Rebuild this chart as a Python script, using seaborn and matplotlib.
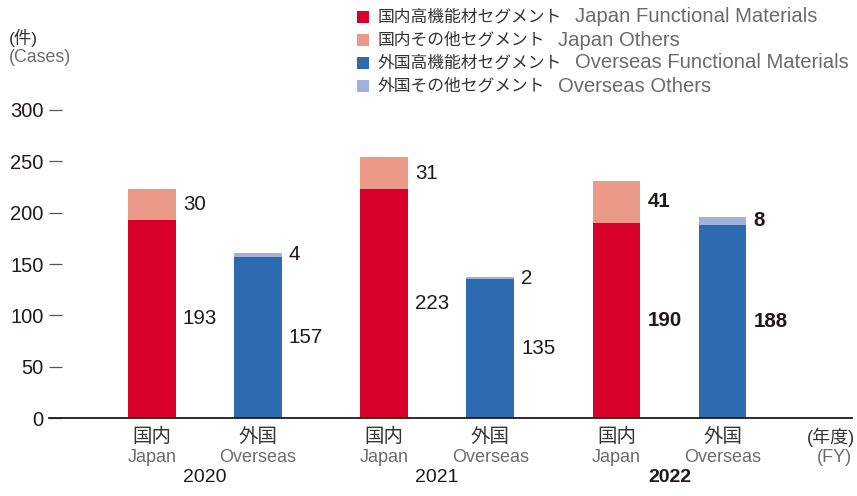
import numpy as np
import pandas as pd
import matplotlib
matplotlib.use('Agg')
import matplotlib.pyplot as plt
from matplotlib.patches import Rectangle
import seaborn as sns

# Data
years = ['2020', '2021', '2022']
japan_func = [193, 223, 190]
japan_other = [30, 31, 41]
overseas_func = [157, 135, 188]
overseas_other = [4, 2, 8]

segments_jp = ['国内高機能材セグメント', '国内その他セグメント',
               '外国高機能材セグメント', '外国その他セグメント']
segments_en = ['Japan Functional Materials', 'Japan Others',
               'Overseas Functional Materials', 'Overseas Others']
colors = ['#D9002B', '#EB9A88', '#2D6BB0', '#9FB2DC']

region_jp = ['国内', '外国']
region_en = ['Japan', 'Overseas']

sns.set_style('white')
plt.rcParams['font.family'] = ['Liberation Sans', 'Noto Sans CJK JP', 'DejaVu Sans']

DARK = '#231815'
GRAY = '#6b6b6b'

# bar positions: two bars per year, wider gap between years
group_step = 2.19
rows = []
for g, yr in enumerate(years):
    for s, (f, o) in enumerate([(japan_func[g], japan_other[g]),
                                (overseas_func[g], overseas_other[g])]):
        rows.append({'pos': g * group_step + s, 'year': yr, 'region': s,
                     'func': f, 'other': o, 'total': f + o,
                     'seg_func': segments_en[2 * s], 'seg_other': segments_en[2 * s + 1]})
df = pd.DataFrame(rows)
palette = dict(zip(segments_en, colors))

fig = plt.figure(figsize=(8.57, 4.96), dpi=100)
ax = fig.add_axes([49 / 857, 1 - 418 / 496, (852 - 49) / 857, 308 / 496])

bar_w = 0.45
sns.barplot(data=df, x='pos', y='total', hue='seg_other', palette=palette, native_scale=True,
            dodge=False, width=bar_w, saturation=1, errorbar=None, legend=False, linewidth=0, ax=ax)
sns.barplot(data=df, x='pos', y='func', hue='seg_func', palette=palette, native_scale=True,
            dodge=False, width=bar_w, saturation=1, errorbar=None, legend=False, linewidth=0, ax=ax)

ax.set_xlim(-0.97, 6.6)
ax.set_ylim(0, 300)
ax.set_xlabel('')
ax.set_ylabel('')
for sp in ['top', 'right', 'left']:
    ax.spines[sp].set_visible(False)
ax.spines['bottom'].set_color(DARK)
ax.spines['bottom'].set_linewidth(1.3)
ax.spines['bottom'].set_zorder(5)
ax.set_xticks([])
ax.set_yticks(range(0, 301, 50))
ax.set_yticklabels([str(v) for v in range(0, 301, 50)], fontsize=14.5, color=DARK)
ax.tick_params(axis='y', direction='in', length=9.5, width=0.9, color='#555555', pad=4, left=True)

# value labels
for _, r in df.iterrows():
    bold = 'bold' if r['year'] == years[-1] else 'normal'
    xr = r['pos'] + bar_w / 2
    ax.annotate(str(r['func']), xy=(xr, r['func'] / 2), xytext=(5, 0), textcoords='offset points',
                ha='left', va='center', fontsize=14.8, color=DARK, fontweight=bold)
    ax.annotate(str(r['other']), xy=(xr, r['func'] + r['other'] / 2), xytext=(5, 0),
                textcoords='offset points', ha='left', va='center', fontsize=14.8, color=DARK,
                fontweight=bold)

# category labels under bars
px = 0.72
for _, r in df.iterrows():
    ax.annotate(region_jp[r['region']], xy=(r['pos'], 0), xycoords=('data', 'axes fraction'),
                xytext=(0, -19 * px), textcoords='offset points', ha='center', va='center',
                fontsize=14, color='#333333')
    ax.annotate(region_en[r['region']], xy=(r['pos'], 0), xycoords=('data', 'axes fraction'),
                xytext=(0, -39 * px), textcoords='offset points', ha='center', va='center',
                fontsize=13, color=GRAY)
for g, yr in enumerate(years):
    bold = 'bold' if g == len(years) - 1 else 'normal'
    ax.annotate(yr, xy=(g * group_step + 0.5, 0), xycoords=('data', 'axes fraction'),
                xytext=(0, -60 * px), textcoords='offset points', ha='center', va='center',
                fontsize=14, color=DARK, fontweight=bold)

fig.text(855 / 857, 1 - 437 / 496, '(年度)', ha='right', va='center', fontsize=13, color='#333333')
fig.text(852 / 857, 1 - 457 / 496, '(FY)', ha='right', va='center', fontsize=13, color=GRAY)

fig.text(9 / 857, 1 - 38 / 496, '(件)', ha='left', va='center', fontsize=12.5, color='#333333')
fig.text(9 / 857, 1 - 57 / 496, '(Cases)', ha='left', va='center', fontsize=12.8, color=GRAY)

# legend with two-colour text
for i, (jp, en, c) in enumerate(zip(segments_jp, segments_en, colors)):
    yc = 17 + 23 * i
    fig.add_artist(Rectangle((357 / 857, 1 - (yc + 6) / 496), 12 / 857, 12 / 496,
                             transform=fig.transFigure, color=c, lw=0))
    t = fig.text(378 / 857, 1 - yc / 496, jp, ha='left', va='center', fontsize=12.1, color='#333333')
    ax.annotate(en, xy=(1, 0.5), xycoords=t, xytext=(9, 0), textcoords='offset points',
                ha='left', va='center', fontsize=14.6, color=GRAY, annotation_clip=False)

fig.savefig('out.png', dpi=100)
